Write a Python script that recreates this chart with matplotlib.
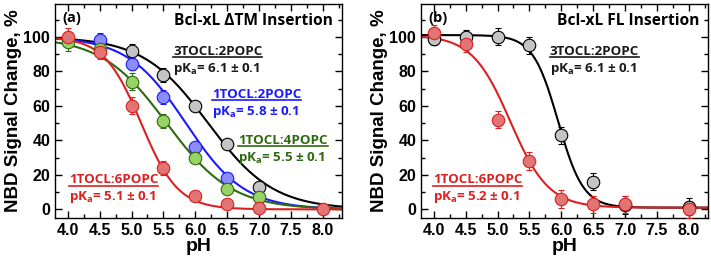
import numpy as np
import matplotlib
matplotlib.use('Agg')
import matplotlib.pyplot as plt
from matplotlib.ticker import MultipleLocator, FormatStrFormatter

plt.rcParams['font.family'] = ['Liberation Sans', 'DejaVu Sans']
plt.rcParams['font.weight'] = 'bold'
plt.rcParams['mathtext.fontset'] = 'custom'
plt.rcParams['mathtext.rm'] = 'Open Sans:bold'
plt.rcParams['mathtext.bf'] = 'Open Sans:bold'

# Panel (a): Bcl-xL dTM insertion
a_black_ph = [5.0, 5.5, 6.0, 6.5, 7.0]
a_black_y = [92, 78, 60, 38, 13]
a_black_err = [4, 4, 2, 2, 3]

a_blue_ph = [4.5, 5.0, 5.5, 6.0, 6.5]
a_blue_y = [98, 84, 65, 36, 18]
a_blue_err = [4, 3, 4, 2, 2]

a_green_ph = [4.0, 4.5, 5.0, 5.5, 6.0, 6.5, 7.0]
a_green_y = [97, 93, 74, 51, 30, 12, 7]
a_green_err = [5, 3, 5, 4, 2, 2, 2]

a_red_ph = [4.0, 4.5, 5.0, 5.5, 6.0, 6.5, 7.0, 8.0]
a_red_y = [100, 91, 60, 24, 8, 3, 1, 0]
a_red_err = [5, 4, 5, 4, 2, 2, 2, 1]

# Panel (b): Bcl-xL FL insertion
b_black_ph = [4.0, 4.5, 5.0, 5.5, 6.0, 6.5, 7.0, 8.0]
b_black_y = [99, 100, 100, 95, 43, 16, 2.5, 1.5]
b_black_err = [4, 4, 5, 5, 5, 5, 5, 5]

b_red_ph = [4.0, 4.5, 5.0, 5.5, 6.0, 6.5, 7.0, 8.0]
b_red_y = [102, 96, 52, 28, 6, 3, 3, 0]
b_red_err = [5, 5, 5, 5, 5, 5, 5, 5]

# Hill fit parameters: (pKa, n, top, bottom)
a_fits = {'black': (6.2, 0.85, 100, 0), 'blue': (5.85, 0.95, 100, 0),
          'green': (5.55, 0.85, 100, 0), 'red': (5.15, 1.5, 100, 0)}
b_fits = {'black': (5.95, 2.2, 101, 1), 'red': (5.2, 1.45, 101, 1)}

# colours: line, marker fill
styles = {'black': ('black', '#c4c4c4'), 'blue': ('#1a1aff', '#8c8cff'),
          'green': ('#2f6a10', '#96d466'), 'red': ('#dc2020', '#e27474')}

TXT = 'Open Sans'
ANN = 9.6


def hill(ph, pka, n, top, bottom):
    return bottom + (top - bottom) / (1 + 10 ** (n * (ph - pka)))


def draw_series(ax, ph, y, err, fit, name):
    line_c, fill_c = styles[name]
    xs = np.linspace(3.8, 8.3, 300)
    ax.plot(xs, hill(xs, *fit), color=line_c, lw=1.5, zorder=2)
    ax.errorbar(ph, y, yerr=err, fmt='o', ms=9, mfc=fill_c, mec=line_c, mew=0.8,
                ecolor=line_c, elinewidth=0.8, capsize=2.5, capthick=0.8, zorder=3)


def label(ax, x, y, name, pka, color):
    # y is the vertical centre of the first line (data units)
    ax.text(x, y - 3.0, name, color=color, fontsize=ANN, family=TXT, weight='bold',
            va='baseline', ha='left')
    ax.text(x, y - 11, 'pK$_\\mathbf{a}$= ' + pka + ' \u00b1 0.1', color=color,
            fontsize=ANN, family=TXT, weight='bold', va='center', ha='left')
    underlines.append((ax, y - 4.3, name, color))


def setup(ax, tag, title):
    ax.set_xlim(3.8, 8.3)
    ax.set_ylim(-5, 119)
    ax.xaxis.set_major_locator(MultipleLocator(0.5))
    ax.xaxis.set_minor_locator(MultipleLocator(0.25))
    ax.yaxis.set_minor_locator(MultipleLocator(10))
    ax.set_yticks([0, 20, 40, 60, 80, 100])
    ax.xaxis.set_major_formatter(FormatStrFormatter('%.1f'))
    ax.tick_params(which='both', direction='in', top=True, right=True, labelsize=11.5)
    ax.tick_params(which='major', length=5, width=1)
    ax.tick_params(which='minor', length=3, width=1)
    for s in ax.spines.values():
        s.set_linewidth(1)
    ax.set_xlabel('pH', fontsize=14, weight='bold', labelpad=0)
    ax.set_ylabel('NBD Signal Change, %', fontsize=13.5, weight='bold', labelpad=1)
    ax.text(3.92, 111, tag, fontsize=10.5, family=TXT, weight='bold', va='center')
    ax.text(8.16, 109, title, fontsize=11.2, family=TXT, weight='bold',
            va='center', ha='right')


underlines = []
fig = plt.figure(figsize=(7.11, 2.64), dpi=100)
ax1 = fig.add_axes([55 / 711, 46 / 264, 287 / 711, 214 / 264])
ax2 = fig.add_axes([421 / 711, 46 / 264, 287 / 711, 214 / 264])

setup(ax1, '(a)', 'Bcl-xL \u0394TM Insertion')
draw_series(ax1, a_black_ph, a_black_y, a_black_err, a_fits['black'], 'black')
draw_series(ax1, a_blue_ph, a_blue_y, a_blue_err, a_fits['blue'], 'blue')
draw_series(ax1, a_green_ph, a_green_y, a_green_err, a_fits['green'], 'green')
draw_series(ax1, a_red_ph, a_red_y, a_red_err, a_fits['red'], 'red')
label(ax1, 5.65, 92.5, '3TOCL:2POPC', '6.1', '#1a1a1a')
label(ax1, 6.26, 67.5, '1TOCL:2POPC', '5.8', '#1a1aff')
label(ax1, 6.67, 41, '1TOCL:4POPC', '5.5', '#2f6a10')
label(ax1, 4.02, 18, '1TOCL:6POPC', '5.1', '#dc2020')

setup(ax2, '(b)', 'Bcl-xL FL Insertion')
draw_series(ax2, b_black_ph, b_black_y, b_black_err, b_fits['black'], 'black')
draw_series(ax2, b_red_ph, b_red_y, b_red_err, b_fits['red'], 'red')
label(ax2, 5.82, 92.5, '3TOCL:2POPC', '6.1', '#1a1a1a')
label(ax2, 3.99, 18, '1TOCL:6POPC', '5.2', '#dc2020')

# underline the first line of each annotation (width taken from the rendered text)
fig.canvas.draw()
r = fig.canvas.get_renderer()
for ax, yu, name, color in underlines:
    for t in ax.texts:
        if t.get_text() == name:
            bb = t.get_window_extent(r).transformed(ax.transData.inverted())
            ax.plot([bb.x0, bb.x1], [yu, yu], color=color, lw=1.2)

fig.savefig('out.png', dpi=100)
